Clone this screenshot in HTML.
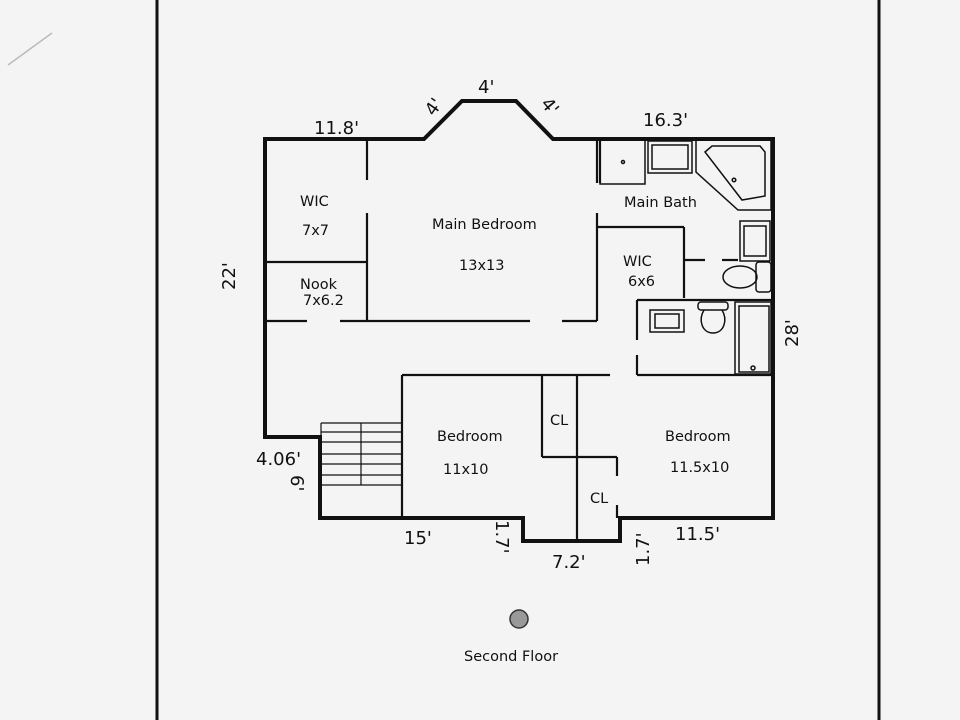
<!DOCTYPE html>
<html><head><style>
html,body{margin:0;padding:0;background:#f4f4f4;}
svg{display:block}
text{font-family:"DejaVu Sans","Liberation Sans",sans-serif;fill:#111}
</style></head><body>
<svg width="960" height="720" viewBox="0 0 960 720" xmlns="http://www.w3.org/2000/svg">
<rect width="960" height="720" fill="#f4f4f4"/>
<line x1="157" y1="0" x2="157" y2="720" stroke="#111" stroke-width="3"/>
<line x1="879" y1="0" x2="879" y2="720" stroke="#111" stroke-width="3"/>
<line x1="8" y1="65" x2="52" y2="33" stroke="#bbb" stroke-width="1.5"/>
<polyline fill="none" stroke="#111" stroke-width="4" stroke-linejoin="miter"
 points="265,437 265,139 424,139 462,101 516,101 553,139 773,139 773,518 620,518 620,541 523,541 523,518 320,518 320,437 263,437"/>
<g stroke="#111" stroke-width="2.2" fill="none">
<line x1="367" y1="139" x2="367" y2="180"/>
<line x1="367" y1="213" x2="367" y2="321"/>
<line x1="265" y1="262" x2="367" y2="262"/>
<line x1="265" y1="321" x2="307" y2="321"/>
<line x1="340" y1="321" x2="530" y2="321"/>
<line x1="562" y1="321" x2="597" y2="321"/>
<line x1="597" y1="139" x2="597" y2="183"/>
<line x1="600" y1="139" x2="600" y2="183"/>
<line x1="597" y1="213" x2="597" y2="321"/>
<line x1="597" y1="227" x2="684" y2="227"/>
<line x1="684" y1="227" x2="684" y2="298"/>
<line x1="684" y1="260" x2="705" y2="260"/>
<line x1="722" y1="260" x2="738" y2="260"/>
<line x1="637" y1="300" x2="773" y2="300"/>
<line x1="637" y1="300" x2="637" y2="340"/>
<line x1="637" y1="355" x2="637" y2="375"/>
<line x1="637" y1="375" x2="773" y2="375"/>
<line x1="402" y1="375" x2="610" y2="375"/>
<line x1="402" y1="375" x2="402" y2="518"/>
<line x1="542" y1="375" x2="542" y2="457"/>
<line x1="542" y1="457" x2="617" y2="457"/>
<line x1="577" y1="375" x2="577" y2="541"/>
<line x1="617" y1="457" x2="617" y2="476"/>
<line x1="617" y1="505" x2="617" y2="518"/>
</g>
<g stroke="#111" stroke-width="1.2">
<line x1="321" y1="423" x2="402" y2="423"/>
<line x1="321" y1="432" x2="402" y2="432"/>
<line x1="321" y1="442" x2="402" y2="442"/>
<line x1="321" y1="454" x2="402" y2="454"/>
<line x1="321" y1="464" x2="402" y2="464"/>
<line x1="321" y1="475" x2="402" y2="475"/>
<line x1="321" y1="485" x2="402" y2="485"/>
<line x1="361" y1="423" x2="361" y2="485"/>
<line x1="321" y1="423" x2="321" y2="437"/>
</g>
<g stroke="#111" stroke-width="1.5" fill="none">
<rect x="600" y="140" width="45" height="44"/>
<circle cx="623" cy="162" r="1.5"/>
<rect x="648" y="141" width="44" height="32"/>
<rect x="652" y="145" width="36" height="24"/>
<path d="M696,140 L771,140 L771,210 L738,210 L696,172 Z"/>
<path d="M705,152 L712,146 L760,146 L765,152 L765,196 L742,200 Z"/>
<circle cx="734" cy="180" r="1.8"/>
<rect x="740" y="221" width="30" height="40"/>
<rect x="744" y="226" width="22" height="30"/>
<rect x="756" y="262" width="15" height="30" rx="3"/>
<ellipse cx="740" cy="277" rx="17" ry="11"/>
<rect x="650" y="310" width="34" height="22"/>
<rect x="655" y="314" width="24" height="14"/>
<rect x="698" y="302" width="30" height="8" rx="3"/>
<path d="M704,310 C698,320 702,333 713,333 C724,333 728,320 722,310"/>
<rect x="735" y="302" width="36" height="72"/>
<rect x="739" y="306" width="30" height="66"/>
<circle cx="753" cy="368" r="2"/>
</g>
<g font-size="14.5">
<text x="300" y="206">WIC</text>
<text x="302" y="235">7x7</text>
<text x="300" y="289">Nook</text>
<text x="303" y="305">7x6.2</text>
<text x="432" y="229">Main Bedroom</text>
<text x="459" y="270">13x13</text>
<text x="624" y="207">Main Bath</text>
<text x="623" y="266">WIC</text>
<text x="628" y="286">6x6</text>
<text x="550" y="425">CL</text>
<text x="590" y="503">CL</text>
<text x="437" y="441">Bedroom</text>
<text x="443" y="474">11x10</text>
<text x="665" y="441">Bedroom</text>
<text x="670" y="472">11.5x10</text>
<text x="464" y="661">Second Floor</text>
</g>
<g font-size="18">
<text x="314" y="134">11.8'</text>
<text x="478" y="93">4'</text>
<text x="643" y="126">16.3'</text>
<text x="256" y="465">4.06'</text>
<text x="404" y="544">15'</text>
<text x="552" y="568">7.2'</text>
<text x="675" y="540">11.5'</text>
<text transform="translate(434,117) rotate(-55)">4'</text>
<text transform="translate(540,104) rotate(50)">4'</text>
<text transform="translate(235,290) rotate(-90)">22'</text>
<text transform="translate(798,347) rotate(-90)">28'</text>
<text transform="translate(291,475) rotate(90)">6'</text>
<text transform="translate(496,520) rotate(90)">1.7'</text>
<text transform="translate(649,566) rotate(-90)">1.7'</text>
</g>
<circle cx="519" cy="619" r="9" fill="#999" stroke="#333" stroke-width="1.5"/>
</svg>
</body></html>
